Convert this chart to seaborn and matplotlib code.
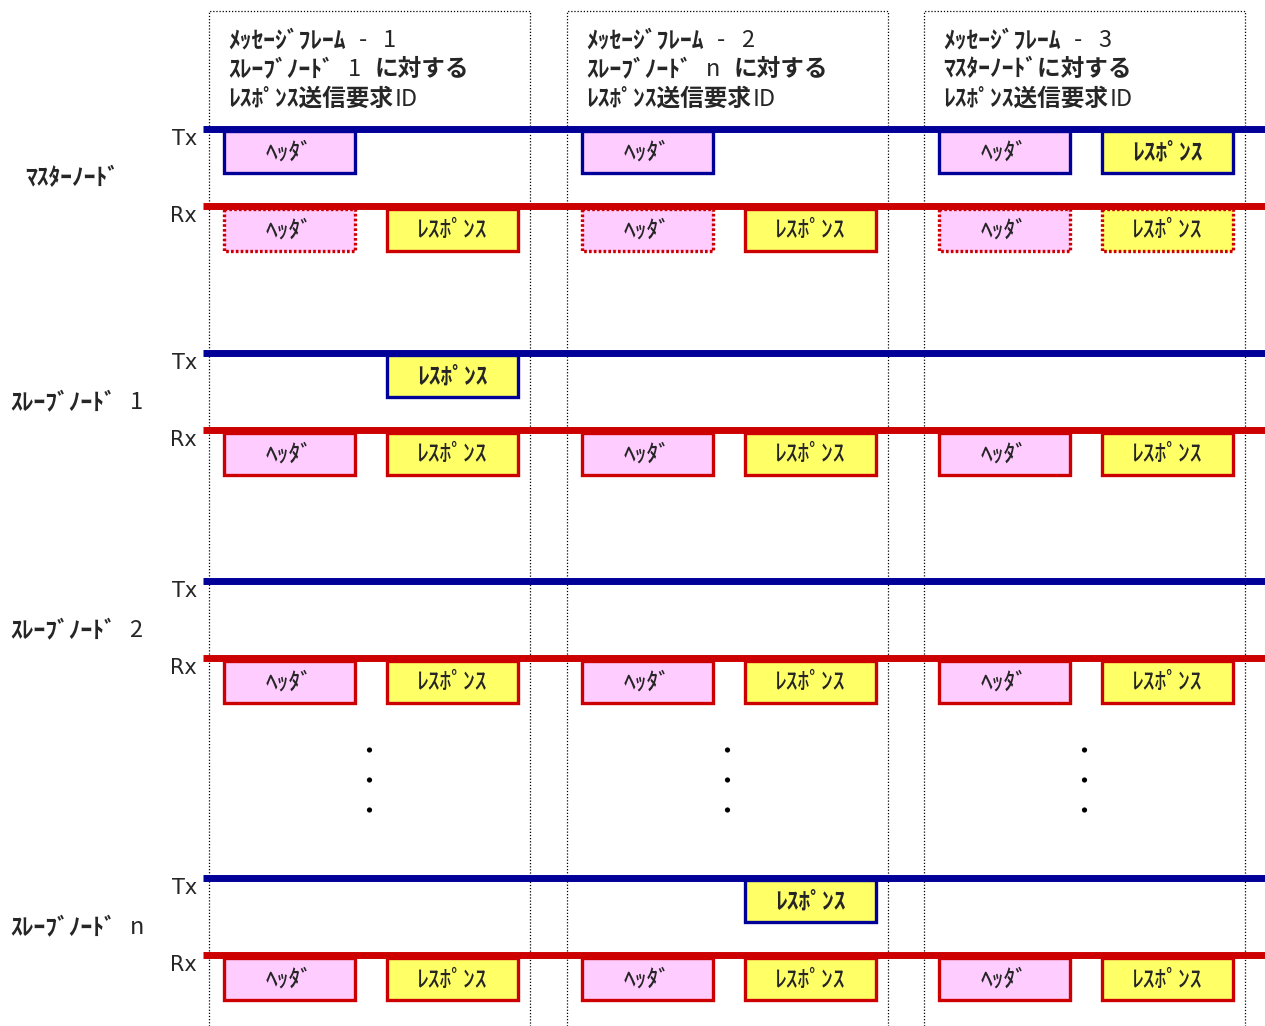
import re
import matplotlib.pyplot as plt
import seaborn as sns
import pandas as pd
from matplotlib.patches import Rectangle

# フレームとノードの内容
frame_titles = [
    ["ﾒｯｾｰｼﾞﾌﾚｰﾑ - 1", "ｽﾚｰﾌﾞﾉｰﾄﾞ 1 に対する", "ﾚｽﾎﾟﾝｽ送信要求ID"],
    ["ﾒｯｾｰｼﾞﾌﾚｰﾑ - 2", "ｽﾚｰﾌﾞﾉｰﾄﾞ n に対する", "ﾚｽﾎﾟﾝｽ送信要求ID"],
    ["ﾒｯｾｰｼﾞﾌﾚｰﾑ - 3", "ﾏｽﾀｰﾉｰﾄﾞに対する", "ﾚｽﾎﾟﾝｽ送信要求ID"],
]
node_names = ["ﾏｽﾀｰﾉｰﾄﾞ", "ｽﾚｰﾌﾞﾉｰﾄﾞ 1", "ｽﾚｰﾌﾞﾉｰﾄﾞ 2", "ｽﾚｰﾌﾞﾉｰﾄﾞ n"]
responders = [1, 3, 0]      # 各フレームでレスポンスを送るノード
header_node = 0             # ヘッダはマスターが送る
header_label = "ﾍｯﾀﾞ"
response_label = "ﾚｽﾎﾟﾝｽ"

# レイアウト (ピクセル)
W, H = 1265, 1026
frame_x0 = [209, 567, 924]
frame_w = 321
frame_top = 11
tx_y = [129, 353, 581, 878]
rx_off = 77
box_off = {"h": 15, "r": 178}
box_w, box_h = 131, 42

BLUE = "#000099"
RED = "#cc0000"
PINK = "#ffccff"
YELLOW = "#ffff66"

sns.set_theme(style="white")
plt.rcParams['font.family'] = ['Noto Sans CJK JP', 'DejaVu Sans']

fig = plt.figure(figsize=(W / 100, H / 100), dpi=100)
ax = fig.add_axes([0, 0, 1, 1])
ax.set_xlim(0, W)
ax.set_ylim(H, 0)
ax.axis("off")
renderer = fig.canvas.get_renderer()


def rich_text(x, y, s, size):
    # 半角英数は細字・半角幅の空白、それ以外は太字 (MSゴシック風)
    em = size * 100 / 72
    for run in re.findall(r" +|[!-~]+|[^ !-~]+", s):
        if run.startswith(" "):
            x += 0.5 * em * len(run)
            continue
        if run[0] <= "~":
            t = ax.text(x + 0.08 * em, y, run, fontsize=size, fontweight="normal",
                        va="baseline", ha="left")
            x = t.get_window_extent(renderer).x1 + 0.08 * em
        else:
            t = ax.text(x, y, run, fontsize=size, fontweight="bold",
                        va="baseline", ha="left")
            x = t.get_window_extent(renderer).x1


# フレーム枠 (点線)
for i, x0 in enumerate(frame_x0):
    x1 = x0 + frame_w
    ax.plot([x0, x0, x1, x1], [H, frame_top, frame_top, H], color="black",
            lw=0.9, ls=(0, (1, 1.5)), zorder=1)
    for k, line in enumerate(frame_titles[i]):
        rich_text(x0 + 19, 47 + 29.5 * k, line, 17)


def draw_box(x, y, kind, edge, dotted, bold):
    face = PINK if kind == "h" else YELLOW
    ls = (0, (0.8, 0.65)) if dotted else "-"
    ax.add_patch(Rectangle((x, y), box_w, box_h, facecolor=face, edgecolor=edge,
                           lw=2.4, ls=ls, zorder=2))
    ax.text(x + box_w / 2, y + box_h / 2 + 1, header_label if kind == "h" else response_label,
            ha="center", va="center", fontsize=17,
            fontweight="bold" if bold else "medium", zorder=3)


for n, name in enumerate(node_names):
    ty = tx_y[n]
    ry = ty + rx_off
    rich_text(10 if n else 25, ty + 56, name, 17)
    for lab, yy in (("Tx", ty), ("Rx", ry)):
        ax.text(197, yy + 10, lab, fontsize=15, family="DejaVu Sans",
                ha="right", va="center")
    ax.hlines([ty], 203, W, color=BLUE, lw=5, zorder=4)
    ax.hlines([ry], 203, W, color=RED, lw=5, zorder=4)

    for f, x0 in enumerate(frame_x0):
        # 送信側
        if n == header_node:
            draw_box(x0 + box_off["h"], ty + 2, "h", BLUE, False, False)
        if n == responders[f]:
            draw_box(x0 + box_off["r"], ty + 2, "r", BLUE, False, True)
        # 受信側 (マスター自身の送信分はエコーとして点線)
        draw_box(x0 + box_off["h"], ry + 3, "h", RED, n == header_node and n == 0, False)
        draw_box(x0 + box_off["r"], ry + 3, "r", RED, n == responders[f] and n == 0, False)

# 省略記号
dots = pd.DataFrame({
    "x": [x0 + frame_w / 2 for x0 in frame_x0 for _ in range(3)],
    "y": [750 + 30 * k for _ in frame_x0 for k in range(3)],
})
sns.scatterplot(data=dots, x="x", y="y", ax=ax, color="black", s=14,
                edgecolor="none", legend=False)
ax.set_xlim(0, W)
ax.set_ylim(H, 0)
ax.axis("off")

fig.savefig("out.png", dpi=100)
